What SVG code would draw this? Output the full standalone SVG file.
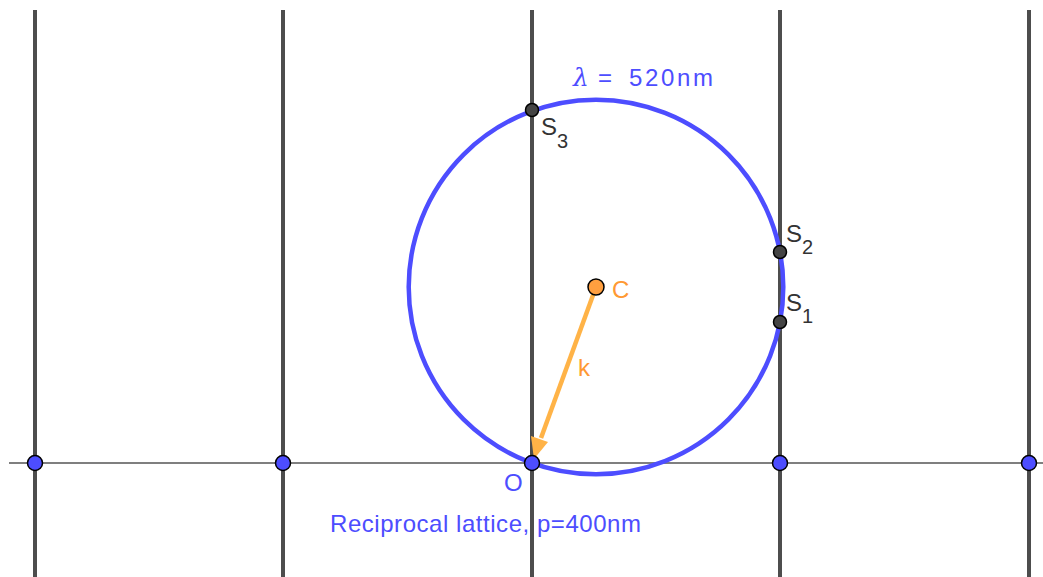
<svg xmlns="http://www.w3.org/2000/svg" width="1043" height="577" viewBox="0 0 1043 577">
<style>
.vl{stroke:#4d4d4d;stroke-width:4}
.hl{stroke:#555;stroke-width:1.5}
.lat{fill:#4d4dff;stroke:#000;stroke-width:1.5}
.sp{fill:#444;stroke:#000;stroke-width:1.5}
.t{font-family:"Liberation Sans",Arial,sans-serif;font-size:24px}
.blue{fill:#4d4dff}
.gray{fill:#333}
.or{fill:#ff9933}
.sub{font-size:20px}
</style>
<rect width="1043" height="577" fill="#fff"/>
<g id="grid">
<line class="vl" x1="35" y1="10" x2="35" y2="577"/>
<line class="vl" x1="283" y1="10" x2="283" y2="577"/>
<line class="vl" x1="532" y1="10" x2="532" y2="577"/>
<line class="vl" x1="780" y1="10" x2="780" y2="577"/>
<line class="vl" x1="1029" y1="10" x2="1029" y2="577"/>
<line class="hl" x1="9" y1="463" x2="1043" y2="463"/>
</g>
<g id="ewald-circle">
<circle cx="596" cy="287" r="187.3" fill="none" stroke="#4d4dff" stroke-width="4.5"/>
</g>
<g id="connectors">
<line x1="596" y1="287" x2="541" y2="438" stroke="#ffb347" stroke-width="4.5"/>
<polygon points="534,459 531,436 548,442" fill="#ffb347"/>
</g>
<g id="lattice-points">
<circle class="lat" cx="35" cy="463" r="7.5"/>
<circle class="lat" cx="283" cy="463" r="7.5"/>
<circle class="lat" cx="532" cy="463" r="7.5"/>
<circle class="lat" cx="780" cy="463" r="7.5"/>
<circle class="lat" cx="1029" cy="463" r="7.5"/>
</g>
<g id="S3"><circle class="sp" cx="532" cy="110" r="6.5"/><text class="t gray" x="541" y="135">S<tspan class="sub" x="557" y="148">3</tspan></text></g>
<g id="S2"><circle class="sp" cx="780" cy="252" r="6.5"/><text class="t gray" x="786" y="242">S<tspan class="sub" x="802" y="254">2</tspan></text></g>
<g id="S1"><circle class="sp" cx="780" cy="322" r="6.5"/><text class="t gray" x="786" y="311">S<tspan class="sub" x="802" y="323">1</tspan></text></g>
<g id="C"><circle cx="596" cy="287" r="8" fill="#ff9f3f" stroke="#000" stroke-width="1.5"/><text class="t or" x="612" y="298">C</text></g>
<g id="k-label"><text class="t or" x="578" y="376">k</text></g>
<g id="O-label"><text class="t blue" x="504" y="491">O</text></g>
<g id="lambda-label"><text class="blue" x="573" y="86" font-family="'DejaVu Serif',serif" font-style="italic" font-size="25">λ</text><text class="t blue" x="598" y="86" font-size="26">=</text><text class="t blue" x="629" y="86" font-size="25" textLength="84">520nm</text></g>
<g id="caption"><text class="t blue" x="330" y="532" font-size="25" textLength="311">Reciprocal lattice, p=400nm</text></g>
</svg>
